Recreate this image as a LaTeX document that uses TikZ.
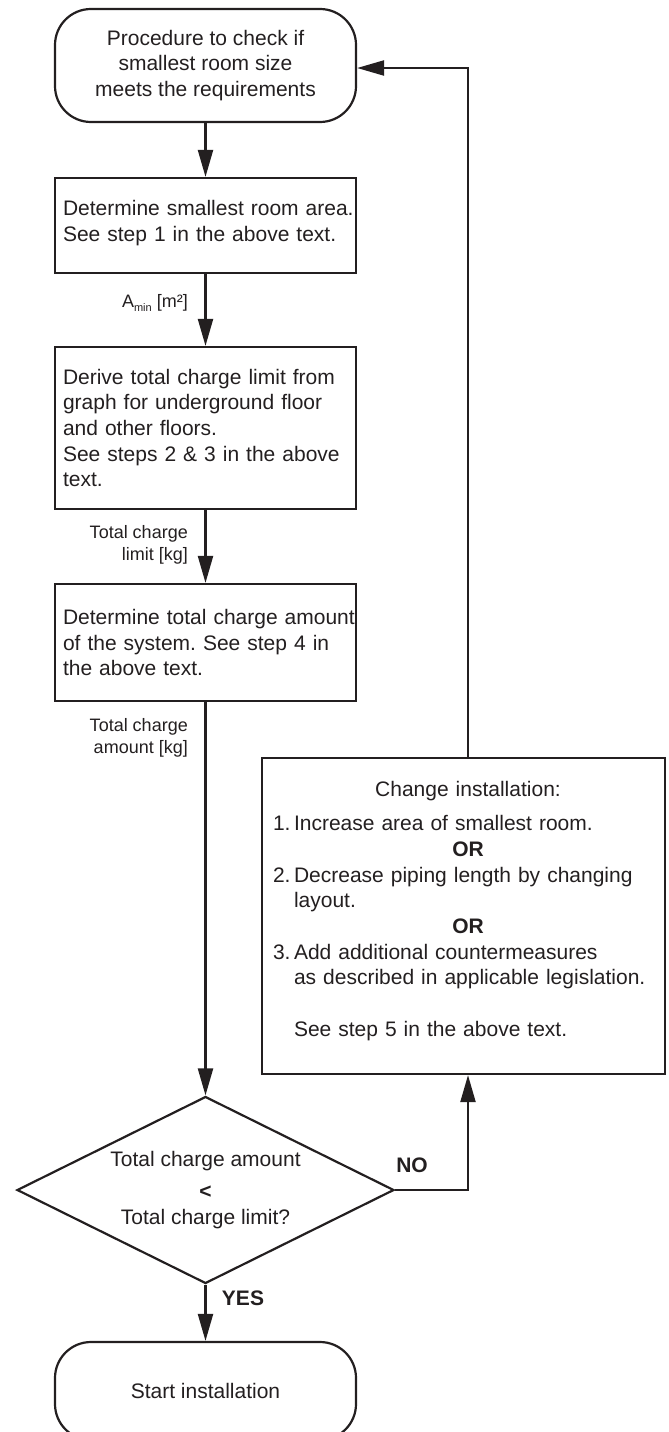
\documentclass[tikz,border=0pt]{standalone}
\usepackage{fontspec}
\setmainfont{Liberation Sans}
\usetikzlibrary{arrows.meta,shapes.geometric}
\definecolor{ink}{HTML}{231F20}
\frenchspacing
\begin{document}
\begin{tikzpicture}[x=1pt,y=-1pt,
  every node/.style={text=ink},
  base/.style={draw=ink, line width=2.2pt, font=\fontsize{21}{25.7}\selectfont\frenchspacing, inner sep=0pt},
  term/.style={base, rounded corners=36pt, minimum width=301pt, align=center},
  proc/.style={base, text width=285pt, inner xsep=8pt, align=left},
  flow/.style={draw=ink, line width=2.2pt, -{Triangle[length=27pt,width=15pt]}},
  lbl/.style={font=\fontsize{18}{22}\selectfont, align=right, anchor=east, inner sep=0pt},
  yn/.style={font=\bfseries\fontsize{21}{25.7}\selectfont, inner sep=0pt},
]
\useasboundingbox (0,0) rectangle (669,1432);
\clip (0,0) rectangle (669,1432);

\node[term, minimum height=113pt] (start) at (205.5,65.5)
  {Procedure to check if\\smallest room size\\meets the requirements};
\node[proc, minimum height=95pt] (area) at (205.5,225.5)
  {\mbox{Determine smallest room area.}\\See step 1 in the above text.\rule[-9pt]{0pt}{9pt}};
\node[proc, minimum height=162pt] (limit) at (205.5,428)
  {Derive total charge limit from\\graph for underground floor\\and other floors.\\See steps 2 \& 3 in the above\\text.};
\node[proc, minimum height=117pt] (amount) at (205.5,642.5)
  {\mbox{Determine total charge amount}\\of the system. See step 4 in\\the above text.};
\node[base, text width=381pt, inner xsep=11pt, minimum height=316pt, align=left] (change) at (463.5,916)
  {\makebox[381pt]{\hspace*{9pt}Change installation:}\\[8pt]
   \makebox[21pt][l]{1.}Increase area of smallest room.\\
   \makebox[381pt]{\hspace*{9pt}\textbf{OR}}\\
   \makebox[21pt][l]{2.}Decrease piping length by changing\\
   \hspace*{21pt}layout.\\
   \makebox[381pt]{\hspace*{9pt}\textbf{OR}}\\
   \makebox[21pt][l]{3.}Add additional countermeasures\\
   \hspace*{21pt}as described in applicable legislation.\\[25.7pt]
   \hspace*{21pt}See step 5 in the above text.\rule[-14pt]{0pt}{14pt}};
\node[base, diamond, aspect=2, minimum width=377pt, minimum height=187pt, align=center] (dec) at (205.5,1190)
  {Total charge amount\\[6pt]\textbf{<}\\Total charge limit?};
\node[term, minimum height=98pt] (inst) at (205.5,1391) {Start installation};

\node[lbl] (lA) at (188,303) {A\raisebox{-4pt}{\fontsize{11}{11}\selectfont min} [m²]};
\node[lbl] (lL) at (188,545) {Total charge\\limit [kg]};
\node[lbl] (lM) at (188,737.5) {Total charge\\amount [kg]};
\node[yn] (no) at (412,1165) {NO};
\node[yn] (yes) at (243,1298) {YES};

\coordinate (cx) at (468,0);
\coordinate (fb) at (0,68);

\draw[flow] (start) -- (area);
\draw[flow] (area) -- (limit);
\draw[flow] (limit) -- (amount);
\draw[flow] (amount) -- (dec);
\draw[flow] (dec) -- (inst);
\draw[flow] (dec.east) -| (cx |- change.south);
\draw[flow] (cx |- change.north) |- (start.east |- fb);
\end{tikzpicture}
\end{document}
